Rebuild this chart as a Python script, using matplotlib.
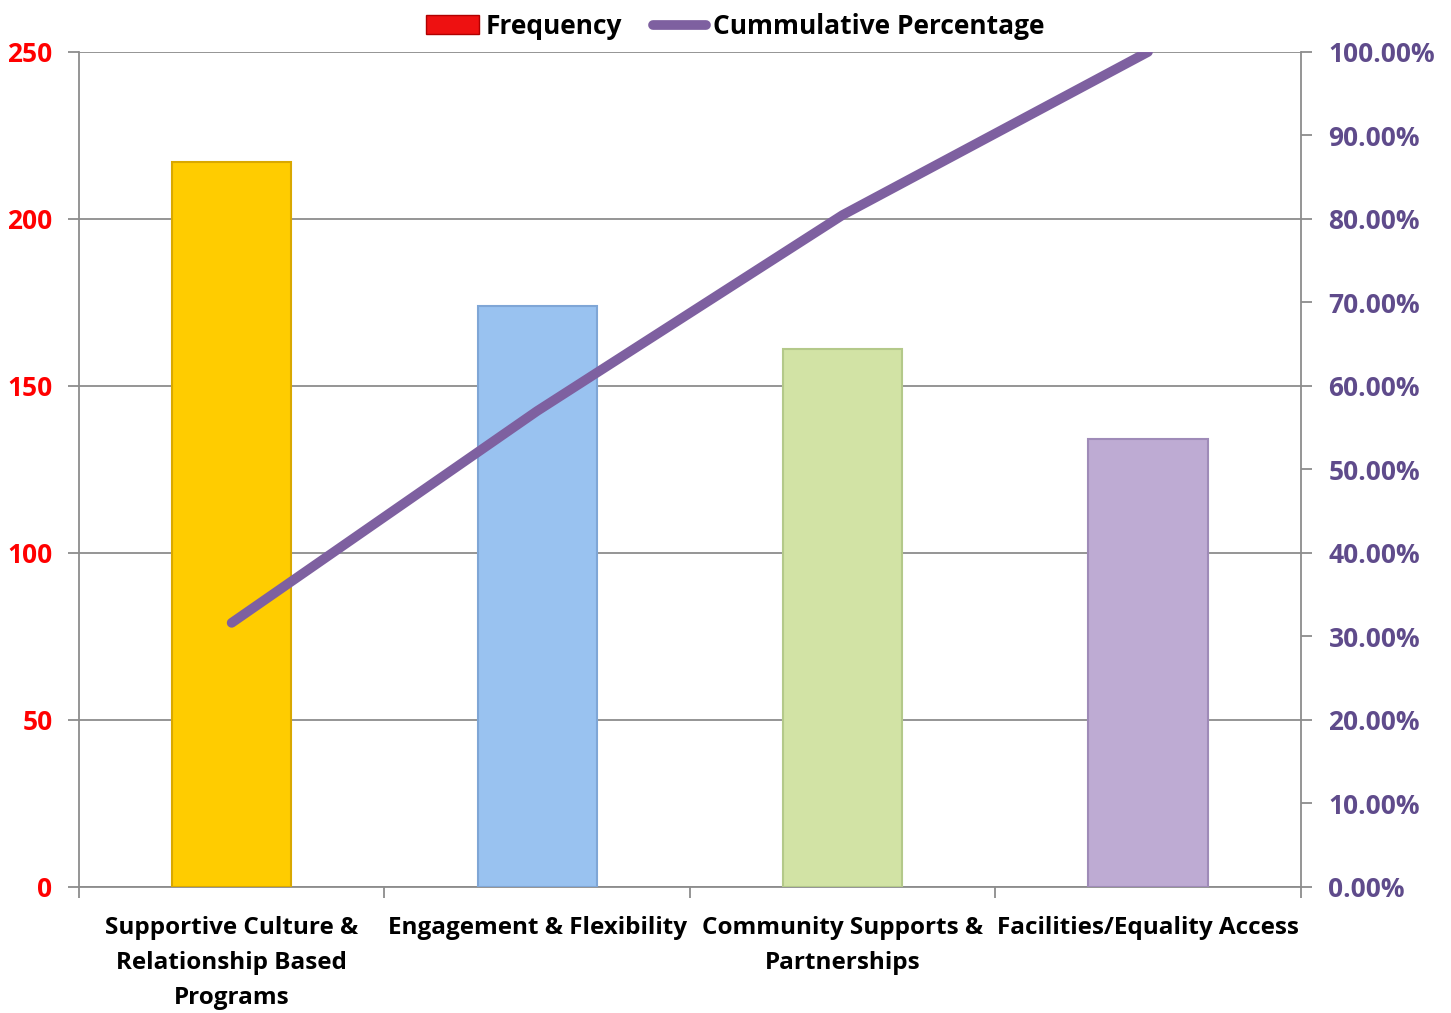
import matplotlib.pyplot as plt
import numpy as np
from matplotlib.lines import Line2D
from matplotlib.patches import Patch
from matplotlib.ticker import FixedLocator, NullFormatter

categories = ["Supportive Culture &\nRelationship Based\nPrograms",
              "Engagement & Flexibility",
              "Community Supports &\nPartnerships",
              "Facilities/Equality Access"]
frequency = [217, 174, 161, 134]
bar_colors = ["#FFCC00", "#99C2F0", "#D2E3A5", "#BEABD3"]
edge_colors = ["#D9A800", "#7FA6D6", "#B4C98A", "#9F8BB8"]

cum_pct = np.cumsum(frequency) / sum(frequency) * 100

plt.rcParams['font.family'] = ['Open Sans', 'DejaVu Sans']
plt.rcParams['font.weight'] = 'bold'
fs = 17.5
fs_tick = 19

fig = plt.figure(figsize=(14.51, 10.13), dpi=100)
ax = fig.add_axes([0.0544, 0.1244, 0.842, 0.8243])
x = np.arange(len(categories))

ax.bar(x, frequency, width=0.39, color=bar_colors, edgecolor=edge_colors, linewidth=1.5, zorder=3)
ax.set_xlim(-0.5, 3.5)
ax.set_ylim(0, 250)
ax.set_yticks(np.arange(0, 251, 50))
ax.yaxis.grid(True, color="#8C8C8C", linewidth=1.3, zorder=0)
ax.set_xticks(x)
ax.set_xticklabels(categories, fontsize=fs, fontweight='bold', linespacing=1.62)
ax.tick_params(axis='x', length=0, pad=21)
ax.xaxis.set_minor_locator(FixedLocator(np.arange(-0.5, 4, 1)))
ax.xaxis.set_minor_formatter(NullFormatter())
ax.tick_params(axis='x', which='minor', length=8, color="#8C8C8C", width=1.3, direction='out')
ax.tick_params(axis='y', length=8, color="#8C8C8C", width=1.3, labelsize=fs_tick, labelcolor="#FF0000", pad=11)
for lbl in ax.get_yticklabels():
    lbl.set_fontweight('bold')
for s in ['top', 'right']:
    ax.spines[s].set_visible(False)
for s in ['left', 'bottom']:
    ax.spines[s].set_color("#8C8C8C")
    ax.spines[s].set_linewidth(1.3)

ax2 = ax.twinx()
ax2.plot(x, cum_pct, color="#7E60A0", linewidth=7, solid_capstyle='round', zorder=4)
ax2.set_ylim(0, 100)
ax2.set_yticks(np.arange(0, 101, 10))
ax2.set_yticklabels([f"{v:.2f}%" for v in np.arange(0, 101, 10)], fontweight='bold')
ax2.tick_params(axis='y', length=8, color="#8C8C8C", width=1.3, labelsize=fs_tick, labelcolor="#5F4B8B", pad=12)
for s in ['top', 'left', 'bottom']:
    ax2.spines[s].set_visible(False)
ax2.spines['right'].set_color("#8C8C8C")
ax2.spines['right'].set_linewidth(1.3)

handles = [Patch(facecolor="#EE1111", edgecolor="#B00000"),
           Line2D([0], [0], color="#7E60A0", linewidth=7, solid_capstyle='round')]
fig.legend(handles, ["Frequency", "Cummulative Percentage"], loc='center',
           bbox_to_anchor=(0.5066, 0.974), ncol=2, frameon=False,
           prop={'size': fs_tick, 'weight': 'bold'},
           handlelength=2.0, handletextpad=0.25, columnspacing=1.2)

fig.savefig("out.png", dpi=100)
